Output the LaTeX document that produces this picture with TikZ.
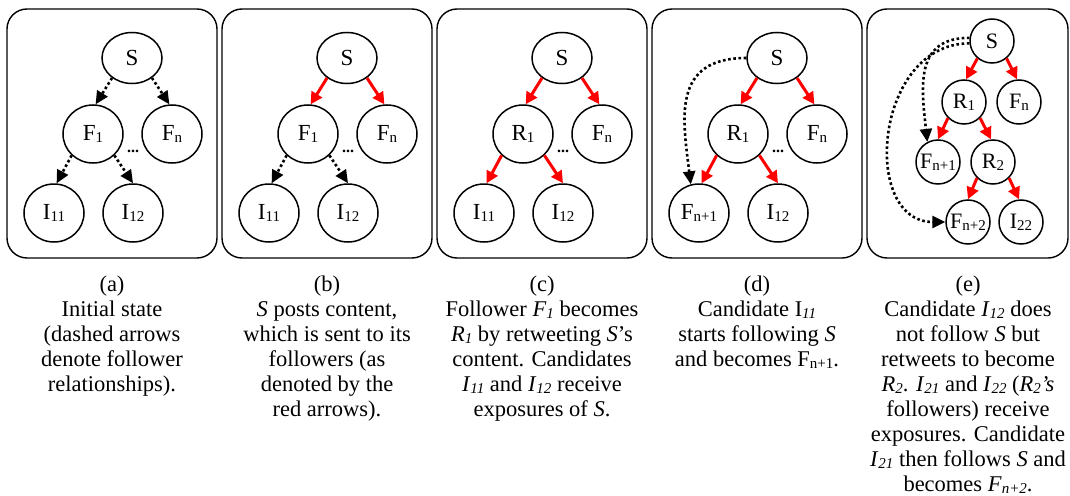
\documentclass[tikz,border=0pt]{standalone}
\usepackage{fontspec}
\setmainfont{Liberation Serif}
\usetikzlibrary{arrows.meta}
\usetikzlibrary{shapes.geometric}

% small lowered index, as in the node labels
\newcommand{\lsub}[1]{{\fontsize{15}{15}\selectfont\raisebox{-2pt}{#1}}}
\newcommand{\csub}[1]{{\fontsize{15}{15}\selectfont\raisebox{-2pt}{\itshape #1}}}

\tikzset{
  panel/.style={draw, line width=1.4pt, rounded corners=20pt},
  nd/.style={draw, ellipse, line width=1.5pt, minimum width=60pt, minimum height=58pt, inner sep=0pt, font=\fontsize{23}{23}\selectfont},
  src/.style={nd, minimum height=51pt},
  snd/.style={draw, circle, line width=1.5pt, minimum size=44pt, inner sep=0pt, font=\fontsize{22}{22}\selectfont},
  follows/.style={line width=2.6pt, dash pattern=on 2.6pt off 2.6pt, -{Triangle[length=13pt,width=12pt]}},
  shares/.style={red, line width=3pt, -{Triangle[length=12pt,width=12pt]}},
  capt/.style={anchor=north, align=center, inner sep=0pt, font=\fontsize{22.5}{25}\selectfont},
  dots/.style={anchor=base, inner sep=0pt, font=\fontsize{16}{16}\selectfont\bfseries}
}

\begin{document}
\begin{tikzpicture}[x=1pt, y=-1pt]
                \useasboundingbox (0,0) rectangle (1070,495);

                % (a) initial state
                \draw[panel] (7,9) rectangle (217,258);
                \node[src] (Sa) at (132,58) {S};
                \node[nd] (F1a) at (93,134) {F\lsub{1}};
                \node[nd] (Fna) at (172,134) {F\lsub{n}};
                \node[nd] (I11a) at (54,213) {I\lsub{11}};
                \node[nd] (I12a) at (133,213) {I\lsub{12}};
                \node[dots] (dotsa) at (133,152) {...};
                \draw[follows] (Sa.-135) -- (F1a.85);
                \draw[follows] (Sa.-45) -- (Fna.95);
                \draw[follows] (F1a.-135) -- (I11a.85);
                \draw[follows] (F1a.-45) -- (I12a.90);
                \node[capt] (capa) at (112,276) {(a)\\Initial state\\(dashed arrows\\denote follower\\relationships).};

                % (b) S posts
                \draw[panel] (222,9) rectangle (432,258);
                \node[src] (Sb) at (347,58) {S};
                \node[nd] (F1b) at (308,134) {F\lsub{1}};
                \node[nd] (Fnb) at (387,134) {F\lsub{n}};
                \node[nd] (I11b) at (269,213) {I\lsub{11}};
                \node[nd] (I12b) at (348,213) {I\lsub{12}};
                \node[dots] (dotsb) at (348,152) {...};
                \draw[shares] (Sb.-135) -- (F1b.85);
                \draw[shares] (Sb.-45) -- (Fnb.95);
                \draw[follows] (F1b.-135) -- (I11b.85);
                \draw[follows] (F1b.-45) -- (I12b.90);
                \node[capt] (capb) at (327,276) {(b)\\\textit{S} posts content,\\which is sent to its\\followers (as\\denoted by the\\red arrows).};

                % (c) F1 retweets
                \draw[panel] (437,9) rectangle (647,258);
                \node[src] (Sc) at (562,58) {S};
                \node[nd] (R1c) at (523,134) {R\lsub{1}};
                \node[nd] (Fnc) at (602,134) {F\lsub{n}};
                \node[nd] (I11c) at (484,213) {I\lsub{11}};
                \node[nd] (I12c) at (563,213) {I\lsub{12}};
                \node[dots] (dotsc) at (563,152) {...};
                \draw[shares] (Sc.-135) -- (R1c.85);
                \draw[shares] (Sc.-45) -- (Fnc.95);
                \draw[shares] (R1c.-135) -- (I11c.85);
                \draw[shares] (R1c.-45) -- (I12c.90);
                \node[capt] (capc) at (542,276) {(c)\\Follower \textit{F}\csub{1} becomes\\\textit{R}\csub{1} by retweeting \textit{S}'s\\content. Candidates\\\textit{I}\csub{11} and \textit{I}\csub{12} receive\\exposures of \textit{S}.};

                % (d) I11 follows S
                \draw[panel] (652,9) rectangle (862,258);
                \node[src] (Sd) at (777,58) {S};
                \node[nd] (R1d) at (738,134) {R\lsub{1}};
                \node[nd] (Fnd) at (817,134) {F\lsub{n}};
                \node[nd] (Fp1d) at (699,213) {F\lsub{n+1}};
                \node[nd] (I12d) at (778,213) {I\lsub{12}};
                \node[dots] (dotsd) at (778,152) {...};
                \draw[shares] (Sd.-135) -- (R1d.85);
                \draw[shares] (Sd.-45) -- (Fnd.95);
                \draw[shares] (R1d.-135) -- (Fp1d.85);
                \draw[shares] (R1d.-45) -- (I12d.90);
                \draw[follows] (Sd.180) .. controls +(-75,0) and +(-8,-65) .. (Fp1d.106);
                \node[capt] (capd) at (757,276) {(d)\\Candidate I\csub{11}\\starts following \textit{S}\\and becomes F\lsub{n+1}.};

                % (e) I12 retweets, I21 follows
                \draw[panel] (867,9) rectangle (1068,258);
                \node[snd] (Se) at (992,41) {S};
                \node[snd] (R1e) at (964,102) {R\lsub{1}};
                \node[snd] (Fne) at (1019,102) {F\lsub{n}};
                \node[snd] (Fp1e) at (938,162) {F\lsub{n+1}};
                \node[snd] (R2e) at (993,162) {R\lsub{2}};
                \node[snd] (Fp2e) at (968,222) {F\lsub{n+2}};
                \node[snd] (I22e) at (1021,222) {I\lsub{22}};
                \draw[shares] (Se.-130) -- (R1e.85);
                \draw[shares] (Se.-50) -- (Fne.95);
                \draw[shares] (R1e.-135) -- (Fp1e.90);
                \draw[shares] (R1e.-45) -- (R2e.95);
                \draw[shares] (R2e.-135) -- (Fp2e.90);
                \draw[shares] (R2e.-45) -- (I22e.95);
                \draw[follows] (Se.172) .. controls +(-55,0) and +(-6,-55) .. (Fp1e.118);
                \draw[follows] (Se.186) .. controls +(-95,0) and +(-85,0) .. (Fp2e.180);
                \node[capt] (cape) at (968,276) {(e)\\Candidate \textit{I}\csub{12} does\\not follow \textit{S} but\\retweets to become\\\textit{R}\csub{2}. \textit{I}\csub{21} and \textit{I}\csub{22} (\textit{R}\csub{2}\textit{'s}\\followers) receive\\exposures. Candidate\\\textit{I}\csub{21} then follows \textit{S} and\\becomes \textit{F}\csub{n+2}.};

            \end{tikzpicture}
\end{document}
